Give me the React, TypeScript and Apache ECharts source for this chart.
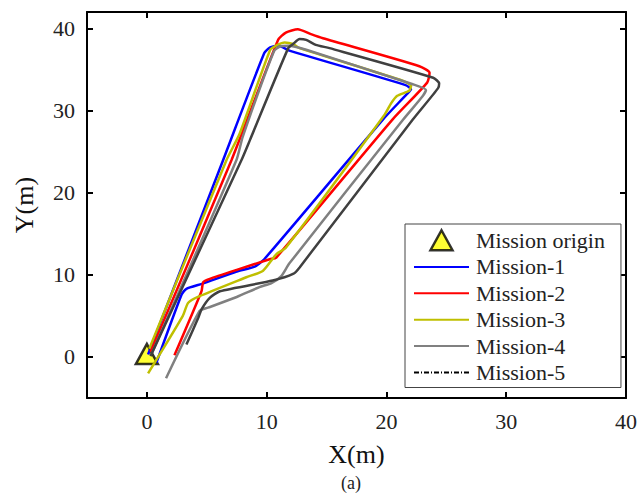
import React, { useEffect, useRef } from "react";
import * as echarts from "echarts";

const FONT = "Liberation Serif";

const xTicks = [0, 10, 20, 30, 40];
const yTicks = [0, 10, 20, 30, 40];

const missionOrigin = [[0, 0]];

const mission1 = [
  [0.1, 0.3], [6.36, 23.95], [9.8, 37.0], [10.3, 37.7], [11.0, 37.9], [11.9, 37.3],
  [21.6, 33.1], [22.05, 32.6], [21.7, 32.0], [19.7, 28.9], [9.8, 11.9], [9.0, 11.0],
  [7.5, 10.4], [4.6, 8.9], [3.3, 8.3], [2.9, 7.6], [0.8, -0.7],
];

const mission2 = [
  [0.3, 0.6], [7.06, 23.95], [10.95, 38.6], [11.6, 39.5], [12.6, 39.9], [13.7, 39.3],
  [14.7, 38.8], [22.75, 35.4], [23.6, 34.6], [23.4, 33.4], [20.5, 28.9], [10.8, 12.1],
  [10.25, 11.9], [7.5, 10.6], [5.25, 9.5], [4.7, 9.1], [4.56, 8.0], [2.3, 0.2],
];

const mission3 = [
  [0.2, 1.0], [6.64, 23.95], [7.75, 27.2], [10.3, 37.4], [10.9, 38.0], [11.5, 38.3],
  [12.2, 38.1], [12.75, 37.6], [21.4, 33.6], [22.05, 33.0], [21.9, 32.4], [20.9, 31.8],
  [20.4, 30.9], [19.8, 29.4], [11.6, 13.3], [10.8, 12.5], [9.7, 10.5], [8.3, 9.7],
  [4.4, 7.4], [3.45, 6.6], [3.0, 5.0], [0.1, -2.0],
];

const mission4 = [
  [0.4, 0.4], [7.47, 23.95], [8.0, 26.8], [10.6, 37.2], [11.1, 37.8], [11.8, 37.9],
  [13.3, 37.4], [22.2, 33.2], [23.3, 32.5], [23.0, 31.7], [21.4, 28.9], [11.9, 11.4],
  [11.2, 9.8], [10.4, 9.0], [9.4, 8.5], [7.5, 7.3], [5.1, 6.0], [4.4, 5.6], [1.6, -2.6],
];

const mission5 = [
  [0.3, 0.1], [7.89, 23.95], [8.6, 26.4], [11.8, 37.6], [12.2, 38.1], [12.75, 38.7],
  [13.3, 38.6], [14.1, 38.0], [15.25, 37.6], [23.9, 34.0], [24.4, 33.3], [24.3, 32.7],
  [22.2, 28.9], [12.75, 10.9], [12.2, 10.1], [10.5, 9.3], [6.1, 8.0], [5.25, 7.2],
  [4.56, 5.8], [4.3, 4.8], [3.3, 1.5],
];

const missions = [
  { name: "Mission-1", data: mission1, color: "#0000ff" },
  { name: "Mission-2", data: mission2, color: "#ff0000" },
  { name: "Mission-3", data: mission3, color: "#bfbf00" },
  { name: "Mission-4", data: mission4, color: "#808080" },
  { name: "Mission-5", data: mission5, color: "#404040" },
];

export default function App() {
  const ref = useRef<HTMLDivElement>(null);
  useEffect(() => {
    document.body.style.margin = "0";
    const chart = echarts.init(ref.current!, null, { renderer: "svg" });
    const axisLine = { show: true, onZero: false, lineStyle: { color: "#000", width: 2 } };
    const tick = (vals: number[]) => ({
      show: true,
      inside: true,
      length: 6,
      customValues: vals,
      lineStyle: { color: "#000", width: 2 },
    });
    const hideSym = { opacity: 0, borderWidth: 0 };
    chart.setOption({
      animation: false,
      backgroundColor: "#fff",
      textStyle: { fontFamily: FONT },
      title: {
        text: "(a)",
        left: 341,
        top: 474,
        padding: 0,
        textStyle: { fontFamily: FONT, fontSize: 18, fontWeight: "normal", color: "#222" },
      },
      grid: { left: 87, top: 12, width: 539, height: 386, containLabel: false },
      xAxis: [
        {
          type: "value",
          min: -5,
          max: 40,
          position: "bottom",
          axisLine,
          axisTick: tick(xTicks),
          splitLine: { show: false },
          axisLabel: {
            customValues: xTicks,
            margin: 12,
            fontFamily: FONT,
            fontSize: 22,
            color: "#222",
          },
          name: "X(m)",
          nameLocation: "middle",
          nameGap: 43,
          nameTextStyle: { fontFamily: FONT, fontSize: 26, color: "#111" },
        },
        {
          type: "value",
          min: -5,
          max: 40,
          position: "top",
          axisLine,
          axisTick: tick(xTicks),
          splitLine: { show: false },
          axisLabel: { show: false },
        },
      ],
      yAxis: [
        {
          type: "value",
          min: -5,
          max: 42,
          position: "left",
          axisLine,
          axisTick: tick(yTicks),
          splitLine: { show: false },
          axisLabel: {
            customValues: yTicks,
            margin: 12,
            fontFamily: FONT,
            fontSize: 22,
            color: "#222",
          },
          name: "Y(m)",
          nameLocation: "middle",
          nameGap: 50,
          nameTextStyle: { fontFamily: FONT, fontSize: 26, color: "#111" },
        },
        {
          type: "value",
          min: -5,
          max: 42,
          position: "right",
          axisLine,
          axisTick: tick(yTicks),
          splitLine: { show: false },
          axisLabel: { show: false },
        },
      ],
      legend: {
        orient: "vertical",
        left: 405,
        top: 224,
        itemWidth: 55,
        itemHeight: 20,
        itemGap: 4.4,
        symbolKeepAspect: true,
        padding: [5, 16, 4, 8],
        backgroundColor: "#fff",
        borderColor: "#444",
        borderWidth: 1,
        borderRadius: 0,
        textStyle: { fontFamily: FONT, fontSize: 22, color: "#222", padding: [0, 0, 0, 2] },
        data: [
          {
            name: "Mission origin",
            icon: "path://M11,0 L22,20 L0,20 Z",
            itemStyle: { color: "#ffff00", borderColor: "#000", borderWidth: 2.5 },
          },
          { name: "Mission-1", itemStyle: hideSym },
          { name: "Mission-2", itemStyle: hideSym },
          { name: "Mission-3", itemStyle: hideSym },
          { name: "Mission-4", itemStyle: hideSym },
          {
            name: "Mission-5",
            itemStyle: hideSym,
            lineStyle: { color: "#000", type: [5, 2, 1, 2], width: 2 },
          },
        ],
      },
      series: [
        {
          name: "Mission origin",
          type: "scatter",
          data: missionOrigin,
          symbol: "triangle",
          symbolSize: [22, 20],
          symbolOffset: [0, -3],
          itemStyle: { color: "#ffff00", borderColor: "#000", borderWidth: 2.5 },
          z: 1,
        },
        ...missions.map((m) => ({
          name: m.name,
          type: "line",
          data: m.data,
          symbol: "none",
          smooth: 0.2,
          color: m.color,
          lineStyle: { color: m.color, width: 2.5 },
          z: 2,
        })),
      ],
    });
    return () => chart.dispose();
  }, []);
  return <div ref={ref} style={{ width: 640, height: 499 }} />;
}
